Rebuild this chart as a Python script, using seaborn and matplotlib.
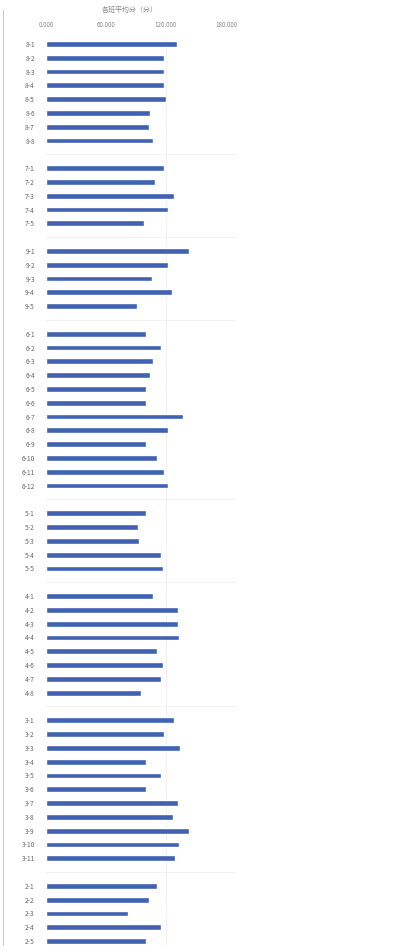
import matplotlib
matplotlib.use("Agg")
import matplotlib.pyplot as plt
import seaborn as sns
import pandas as pd

# groups of classes and their scores
group_sizes = [8, 5, 5, 12, 5, 8, 11, 5]
group_names = ["8", "7", "9", "6", "5", "4", "3", "2"]
values = [
    131, 118, 118, 118, 120, 104, 103, 107,
    118, 109, 128, 122, 98,
    143, 122, 106, 126, 91,
    100, 115, 107, 104, 100, 100, 137, 122, 100, 111, 118, 122,
    100, 92, 93, 115, 117,
    107, 132, 132, 133, 111, 117, 115, 95,
    128, 118, 134, 100, 115, 100, 132, 127, 143, 133, 129,
    111, 103, 82, 115, 100,
]
x_ticks = [0, 60, 120, 180]
x_ticklabels = ["0.000", "60.000", "120.000", "180.000"]
title = "各班平均分（分）"

labels = []
order = []
for gi, (g, n) in enumerate(zip(group_names, group_sizes)):
    for k in range(n):
        labels.append(f"{g}-{k + 1}")
    order += [f"{g}-{k + 1}" for k in range(n)]
    if gi < len(group_sizes) - 1:
        order.append(f"_gap{gi}")

df = pd.DataFrame({"label": labels, "value": values})

sns.set_style("white")
plt.rcParams["font.family"] = ["Noto Sans CJK SC", "DejaVu Sans"]

W, H = 414, 946
fig = plt.figure(figsize=(W / 100, H / 100), dpi=100)
top_px, bot_px = 37, 948
ax = fig.add_axes([46 / W, 1 - bot_px / H, 190 / W, (bot_px - top_px) / H])

sns.barplot(data=df, x="value", y="label", order=order, orient="h",
            color="#4161b2", width=0.42, saturation=1, ax=ax)

ax.set_xlim(0, 190)
ax.set_ylim(len(order) - 0.5, -0.5)
ax.xaxis.tick_top()
ax.set_xticks(x_ticks)
ax.set_xticklabels(x_ticklabels, fontsize=4.5, color="#888888")
ax.tick_params(axis="x", length=0, pad=6)
ax.tick_params(axis="y", length=0, pad=8)
ax.set_yticks(range(len(order)))
ax.set_yticklabels([o if not o.startswith("_gap") else "" for o in order],
                   fontsize=4.8, color="#666666")
ax.set_xlabel("")
ax.set_ylabel("")
for s in ax.spines.values():
    s.set_visible(False)

# faint separators between groups and a light grid line
for i, o in enumerate(order):
    if o.startswith("_gap"):
        ax.axhline(i, color="#f0f0f0", lw=0.6, zorder=0)
ax.axvline(120, color="#eeeeee", lw=0.6, zorder=0)

fig.text(130 / W, 1 - 10 / H, title, fontsize=5, color="#888888",
         ha="center", va="center")
fig.add_artist(plt.Line2D([3 / W, 3 / W], [0, 1 - 10 / H],
                          color="#cccccc", lw=0.8))

fig.savefig("out.png", dpi=100)
